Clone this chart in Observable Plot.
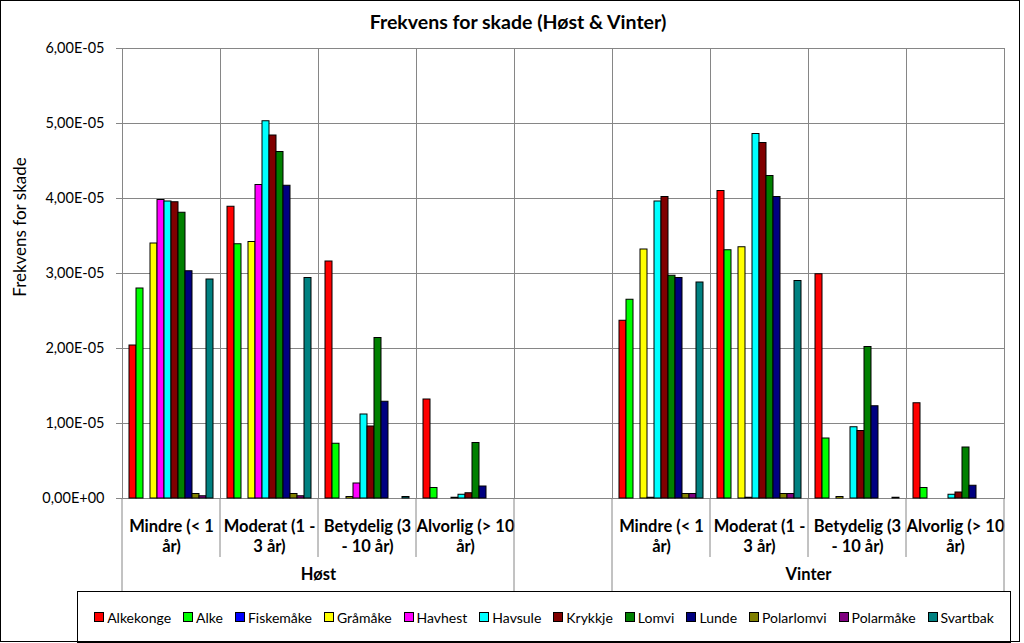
<!DOCTYPE html>
<html><head><meta charset="utf-8">
<script src="https://cdn.jsdelivr.net/npm/d3@7"></script>
<script src="https://cdn.jsdelivr.net/npm/@observablehq/plot@0.6"></script>
<style>
body{margin:0;background:#fff;}
#chart{position:relative;width:1024px;height:643px;overflow:hidden;font-family:Lato,"Open Sans",sans-serif;color:#000;}
#border{position:absolute;left:0;top:0;width:1020px;height:642px;border:1.5px solid #000;box-sizing:border-box;pointer-events:none;}
#title{position:absolute;top:10px;left:0;width:1036px;text-align:center;font-weight:bold;font-size:19.5px;line-height:24px;}
#plot{position:absolute;top:40px;left:0;}
#legend{position:absolute;left:77px;top:591px;width:934px;height:52px;border:1.5px solid #000;box-sizing:border-box;display:flex;align-items:center;justify-content:center;font-size:14px;background:#fff;}
.item{display:flex;align-items:center;margin:0 6px;}
.sw{width:8px;height:8px;border:1px solid #000;margin-right:3px;}
</style></head>
<body>
<div id="chart">
  <div id="title">Frekvens for skade (Høst &amp; Vinter)</div>
  <div id="plot"></div>
  <div id="legend"></div>
  <div id="border"></div>
</div>
<script>
// ---- data ----
const groups = ["Høst", "Vinter"];
const severities = ["Mindre (< 1\når)", "Moderat (1 -\n3 år)", "Betydelig (3\n- 10 år)", "Alvorlig (> 10\når)"];
const species = ["Alkekonge","Alke","Fiskemåke","Gråmåke","Havhest","Havsule","Krykkje","Lomvi","Lunde","Polarlomvi","Polarmåke","Svartbak"];
const colors = ["#FF0000","#00FF00","#0000FF","#FFFF00","#FF00FF","#00FFFF","#800000","#008000","#000080","#808000","#800080","#008080"];
const yTicks = [0, 1e-5, 2e-5, 3e-5, 4e-5, 5e-5, 6e-5];
// values per species: Høst [Mindre, Moderat, Betydelig, Alvorlig], Vinter [...]
const hostValues = {
  "Alkekonge": [2.04e-5, 3.89e-5, 3.16e-5, 1.32e-5],
  "Alke":      [2.80e-5, 3.39e-5, 0.73e-5, 0.14e-5],
  "Fiskemåke": [0, 0, 0, 0],
  "Gråmåke":   [3.40e-5, 3.42e-5, 0.02e-5, 0],
  "Havhest":   [3.98e-5, 4.18e-5, 0.20e-5, 0.01e-5],
  "Havsule":   [3.96e-5, 5.03e-5, 1.12e-5, 0.05e-5],
  "Krykkje":   [3.95e-5, 4.84e-5, 0.96e-5, 0.07e-5],
  "Lomvi":     [3.81e-5, 4.62e-5, 2.14e-5, 0.74e-5],
  "Lunde":     [3.03e-5, 4.17e-5, 1.29e-5, 0.16e-5],
  "Polarlomvi":[0.06e-5, 0.06e-5, 0, 0],
  "Polarmåke": [0.03e-5, 0.03e-5, 0, 0],
  "Svartbak":  [2.92e-5, 2.94e-5, 0.02e-5, 0]
};
const vinterValues = {
  "Alkekonge": [2.37e-5, 4.10e-5, 2.99e-5, 1.27e-5],
  "Alke":      [2.65e-5, 3.31e-5, 0.80e-5, 0.14e-5],
  "Fiskemåke": [0, 0, 0, 0],
  "Gråmåke":   [3.32e-5, 3.35e-5, 0.02e-5, 0],
  "Havhest":   [0.01e-5, 0.01e-5, 0, 0],
  "Havsule":   [3.96e-5, 4.86e-5, 0.95e-5, 0.05e-5],
  "Krykkje":   [4.02e-5, 4.74e-5, 0.90e-5, 0.08e-5],
  "Lomvi":     [2.97e-5, 4.30e-5, 2.02e-5, 0.68e-5],
  "Lunde":     [2.94e-5, 4.02e-5, 1.23e-5, 0.17e-5],
  "Polarlomvi":[0.06e-5, 0.06e-5, 0, 0],
  "Polarmåke": [0.06e-5, 0.06e-5, 0, 0],
  "Svartbak":  [2.88e-5, 2.90e-5, 0.01e-5, 0]
};
const valuesByGroup = {"Høst": hostValues, "Vinter": vinterValues};

// ---- build tables ----
const GAP = "gap";
const fxDomain = [...severities.map((s,i)=>"Høst|"+i), GAP, ...severities.map((s,i)=>"Vinter|"+i)];
const rows = [];
for (const g of groups) for (const sp of species) severities.forEach((s,i)=>{
  rows.push({key: g+"|"+i, species: sp, value: valuesByGroup[g][sp][i]});
});
const catLabels = [];
for (const g of groups) severities.forEach((s,i)=>catLabels.push({key: g+"|"+i, label: s}));
const groupLabels = groups.map(g=>({key: g+"|1", label: g}));
const gridRows = fxDomain.flatMap(k => yTicks.map(y => ({key: k, y})));

function fmt(d){
  const [m, e] = d.toExponential(2).split("e");
  const sign = e[0] === "-" ? "-" : "+";
  const ex = e.replace(/^[+-]/, "").padStart(2, "0");
  return m.replace(".", ",") + "E" + sign + ex;
}

const W = 1024, H = 552, MT = 8, MB = 94, ML = 118, MR = 17;
const plot = Plot.plot({
  width: W, height: H, marginTop: MT, marginBottom: MB, marginLeft: ML, marginRight: MR,
  style: {fontFamily: "Lato, 'Open Sans', sans-serif", fontSize: "14px", overflow: "visible"},
  fx: {domain: fxDomain, padding: 0, axis: null, label: null},
  x: {domain: species, paddingInner: 0, paddingOuter: 0.7, axis: null},
  y: {domain: [0, 6e-5], axis: null},
  color: {domain: species, range: colors},
  marks: [
    Plot.ruleY(gridRows, {fx: "key", y: "y", stroke: "#868686", strokeWidth: 1}),
    Plot.frame({stroke: "#868686", strokeWidth: 1}),
    Plot.barY(rows, {fx: "key", x: "species", y: "value", fill: "species", stroke: "#000", strokeWidth: 1, filter: d => d.value > 0}),
    Plot.axisY(yTicks, {facetAnchor: "left", tickSize: 6, tickFormat: () => "", stroke: "#868686", label: null}),
    Plot.axisY(yTicks, {facetAnchor: "left", tickSize: 0, tickPadding: 0, dx: -18, tickFormat: fmt, fill: "#000", fontSize: 14.5, label: null}),
    Plot.text(catLabels, {fx: "key", text: "label", frameAnchor: "bottom", dy: 19, lineAnchor: "top", lineHeight: 1.21, fontWeight: "bold", fontSize: 16.5, fill: "#000"}),
    Plot.text(groupLabels, {fx: "key", text: "label", frameAnchor: "bottom-right", textAnchor: "middle", dy: 81, fontWeight: "bold", fontSize: 16.5, fill: "#000"})
  ]
});
document.getElementById("plot").appendChild(plot);

// lower axis dividers, through the fx scale
const fx = plot.scale("fx");
const bw = fx.bandwidth;
const svg = d3.select(plot);
const bottom = H - MB;
const full = new Set([0, 4, 5, 9]);
for (let i = 0; i <= fxDomain.length; i++) {
  const x = i < fxDomain.length ? fx.apply(fxDomain[i]) : fx.apply(fxDomain[fxDomain.length-1]) + bw;
  svg.append("line").attr("x1", x).attr("x2", x).attr("y1", bottom).attr("y2", full.has(i) ? H : bottom + 59)
    .attr("stroke", "#868686").attr("stroke-width", 1);
}
// y axis title
svg.append("text").attr("transform", `translate(22,${227-40}) rotate(-90)`).attr("text-anchor", "middle")
  .attr("dominant-baseline", "middle").attr("font-size", 17).attr("fill", "#000").text("Frekvens for skade");

// legend
const leg = d3.select("#legend");
species.forEach((sp, i) => {
  const it = leg.append("div").attr("class", "item");
  it.append("div").attr("class", "sw").style("background", colors[i]);
  it.append("span").text(sp);
});
</script>
</body></html>
